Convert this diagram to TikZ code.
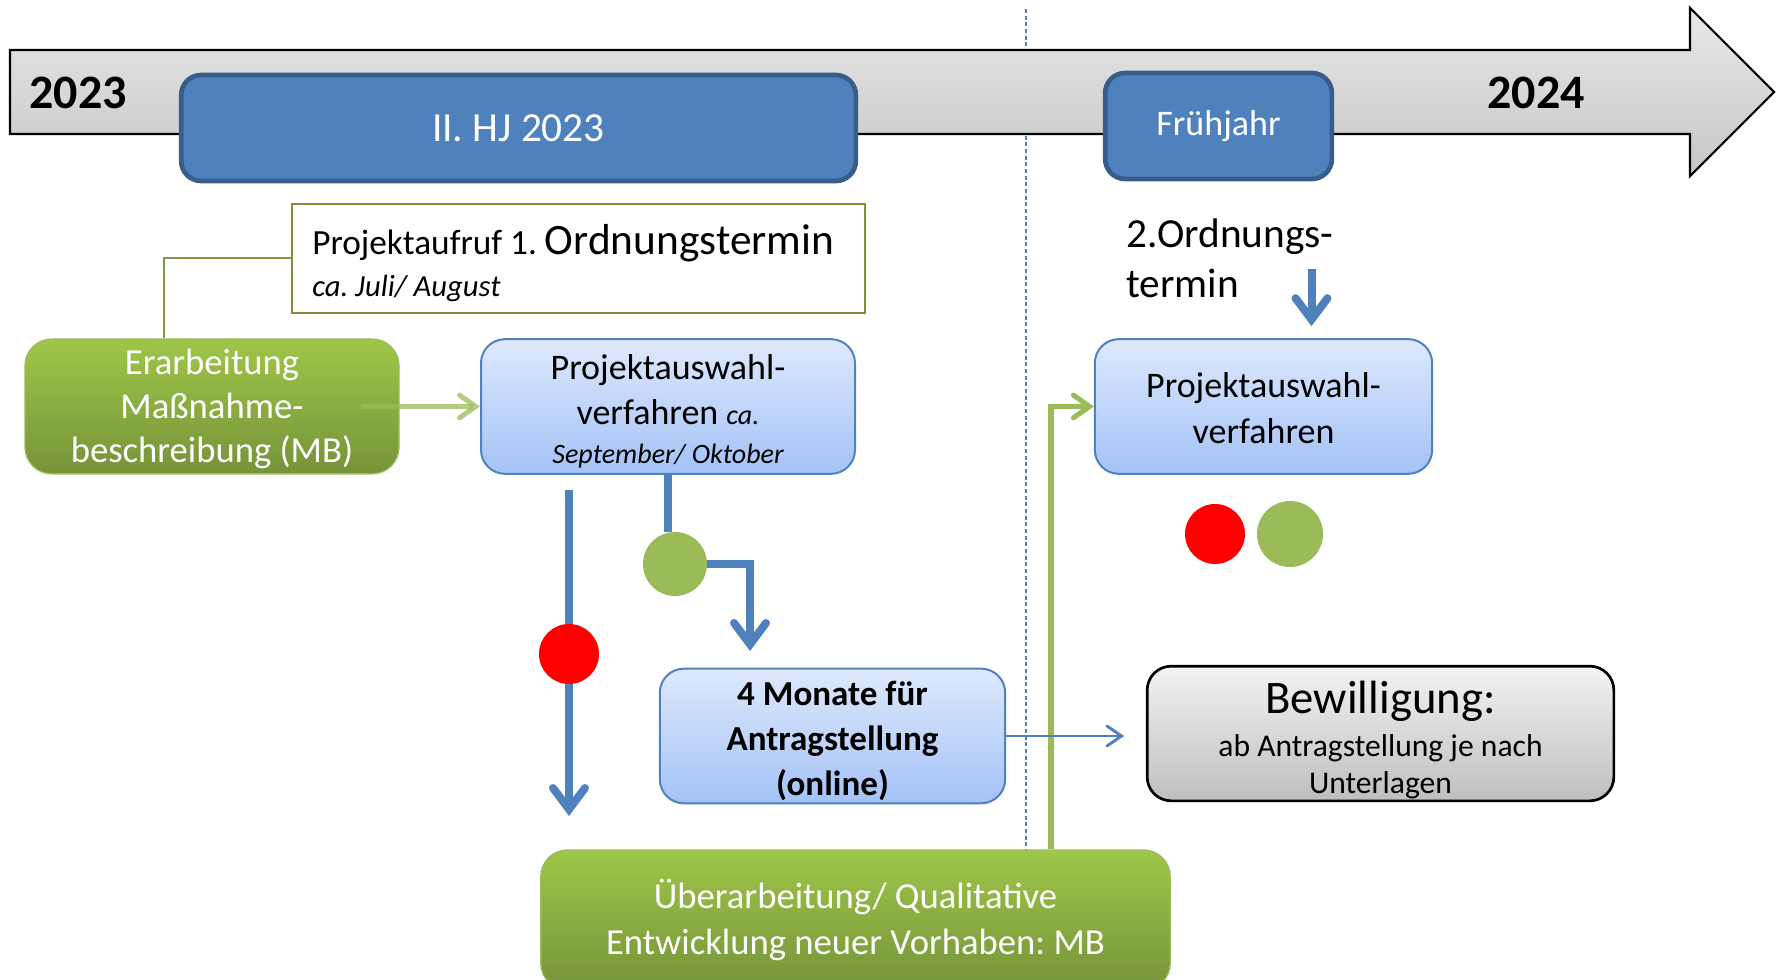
\documentclass[tikz,border=0pt]{standalone}
\usepackage{fontspec}
\setmainfont{Carlito}
\usepackage{tikz}
\usetikzlibrary{calc}
\usetikzlibrary{arrows.meta, positioning}
\frenchspacing

\definecolor{hjblue}{RGB}{79,129,189}
\definecolor{hjedge}{RGB}{56,93,138}
\definecolor{palight}{RGB}{222,233,252}
\definecolor{padark}{RGB}{163,194,247}
\definecolor{grtop}{RGB}{158,198,72}
\definecolor{grbot}{RGB}{118,147,58}
\definecolor{grline}{RGB}{155,187,89}
\definecolor{gredge}{RGB}{119,147,60}
\definecolor{bwtop}{RGB}{243,243,243}
\definecolor{bwbot}{RGB}{190,190,190}

\tikzset{
  phasebox/.style={draw=hjedge, line width=3.5pt, fill=hjblue, rounded corners=15pt, text=white, inner sep=0pt, align=center},
  stagebox/.style={draw=hjblue, line width=1.5pt, top color=palight, bottom color=padark, rounded corners=18pt, inner sep=0pt},
  workbox/.style={draw=grline, line width=1pt, top color=grtop, bottom color=grbot, rounded corners=20pt, inner sep=0pt},
  bewbox/.style={draw=black, line width=2pt, top color=bwtop, bottom color=bwbot, rounded corners=18pt, inner sep=0pt},
  boxtext/.style={inner sep=0pt, align=center},
  dot/.style={circle, inner sep=0pt},
  flowline/.style={draw=hjblue, line width=6pt, -{Straight Barb[length=16pt, width=24pt, line cap=round]}},
  thinflow/.style={draw=hjblue, line width=2.2pt, -{Straight Barb[length=11pt, width=15pt, line cap=round]}},
  greenflow/.style={draw=grline, line width=3.8pt, -{Straight Barb[length=12pt, width=17pt, line cap=round]}},
}

\begin{document}
\begin{tikzpicture}[x=0.75pt,y=0.75pt,yscale=-1,xscale=1]
\useasboundingbox (0,0) rectangle (1777,980);
\clip (0,0) rectangle (1777,980);

%Straight Lines: dashed divider
\draw [hjblue, line width=0.9pt, dash pattern=on 3pt off 2pt] (1026,9) -- (1026,850) ;

%Shape: Timeline arrow
\draw [black, line width=1.6pt, top color={rgb,255:red,232;green,232;blue,232}, bottom color={rgb,255:red,198;green,198;blue,198}] (10,50) -- (1690,50) -- (1690,8) -- (1774,92) -- (1690,176) -- (1690,134) -- (10,134) -- cycle ;

% Text Node
\node [font=\fontsize{36pt}{40pt}\selectfont\bfseries] (yrstart) at (78,93) {2023};
% Text Node
\node [font=\fontsize{36pt}{40pt}\selectfont\bfseries] (yrend) at (1536,93) {2024};

%Phases
\node [phasebox, minimum width=506pt, minimum height=79.5pt, font=\fontsize{31pt}{36pt}\selectfont] (halfyear) at (518.5,128) {\raisebox{-2pt}{II. HJ 2023}};
\node [phasebox, minimum width=170pt, minimum height=79.5pt, font=\fontsize{27pt}{32pt}\selectfont] (spring) at (1218.5,126) {\raisebox{-3pt}{Frühjahr}};

%Project call
\node [draw=gredge, line width=1.5pt, fill=white, minimum width=430pt, minimum height=82pt, inner sep=0pt] (call) at (578.5,258.5) {};
\node [anchor=west, inner sep=0pt, align=left, font=\fontsize{26.5pt}{32pt}\selectfont] (calltext) at (312,263) {Projektaufruf 1. {\fontsize{32.5pt}{32pt}\selectfont Ordnungstermin}\\{\fontsize{23pt}{26pt}\selectfont\itshape ca. Juli/ August}};

%Stages
\node [workbox, minimum width=280.5pt, minimum height=101pt] (draft) at (212,406.5) {};
\node [boxtext, text=white, font=\fontsize{27.5pt}{33pt}\selectfont] (drafttext) at (212,409) {Erarbeitung\\Maßnahme-\\beschreibung (MB)};

\node [stagebox, minimum width=280.5pt, minimum height=101pt] (select) at (668,406.5) {};
\node [boxtext, font=\fontsize{27pt}{34pt}\selectfont] (selecttext) at (668,411) {Projektauswahl-\\verfahren {\fontsize{21pt}{34pt}\selectfont\itshape ca.}\\[-5pt]{\fontsize{21pt}{26pt}\selectfont\itshape September/ Oktober}};

\node [stagebox, minimum width=253pt, minimum height=101pt] (reselect) at (1263.5,406.5) {};
\node [boxtext, font=\fontsize{27pt}{34pt}\selectfont] (reselecttext) at (1263.5,408) {Projektauswahl-\\verfahren};

\node [stagebox, minimum width=259pt, minimum height=101pt] (apply) at (832.5,736) {};
\node [boxtext, font=\fontsize{26.3pt}{34pt}\selectfont\bfseries] (applytext) at (832.5,741) {4 Monate für\\Antragstellung\\(online)};

\node [bewbox, minimum width=350pt, minimum height=101pt] (grant) at (1380.5,733.5) {};
\node [boxtext, font=\fontsize{23.7pt}{28pt}\selectfont] (granttext) at (1380.5,740) {{\fontsize{35pt}{38pt}\selectfont Bewilligung:}\\[4pt]ab Antragstellung je nach\\Unterlagen};

\node [workbox, minimum width=472pt, minimum height=105pt] (rework) at (855.5,920) {};
\node [boxtext, text=white, font=\fontsize{27.5pt}{34pt}\selectfont] (reworktext) at (855.5,920) {Überarbeitung/ Qualitative\\Entwicklung neuer Vorhaben: MB};

% Text Node
\node [anchor=north west, inner sep=0pt, align=left, font=\fontsize{31pt}{37.5pt}\selectfont] (second) at (1126,219) {2.Ordnungs-\\termin};

%Decision dots
\node [dot, fill=red, minimum size=45pt] (nodot) at (569,654) {};
\node [dot, fill=grline, minimum size=48pt] (yesdot) at (675,564) {};
\node [dot, fill=red, minimum size=45pt] (nodot2) at (1215,534) {};
\node [dot, fill=grline, minimum size=49.5pt] (yesdot2) at (1290,534) {};

\coordinate (nostart) at ($(select.south)+(-99,15)$);
\coordinate (noend) at (569,816);
\coordinate (yesend) at (750,651);
\coordinate (greenx) at (1051,0);

%Connectors
\draw [gredge!80!grline, line width=1.5pt] (call.west) -| ($(draft.north)+(-48,0)$) ;
\draw [greenflow, draw opacity=0.75] ($(draft.east)+(-39,0)$) -- (select.west) ;
\draw [hjblue, line width=6pt] (nostart) -- (nodot.north) ;
\draw [flowline] (nodot.south) -- (noend) ;
\draw [hjblue, line width=6pt] (select.south) -- (select.south |- yesdot.north) ;
\draw [flowline] (yesdot.east) -| (yesend) ;
\draw [greenflow] (rework.north -| greenx) |- (reselect.west) ;
\draw [thinflow] (apply.east) -- ($(apply.east)+(118,0)$) ;
\draw [flowline] ($(reselect.north)+(48,-69)$) -- ($(reselect.north)+(48,-12)$) ;

\end{tikzpicture}
\end{document}
